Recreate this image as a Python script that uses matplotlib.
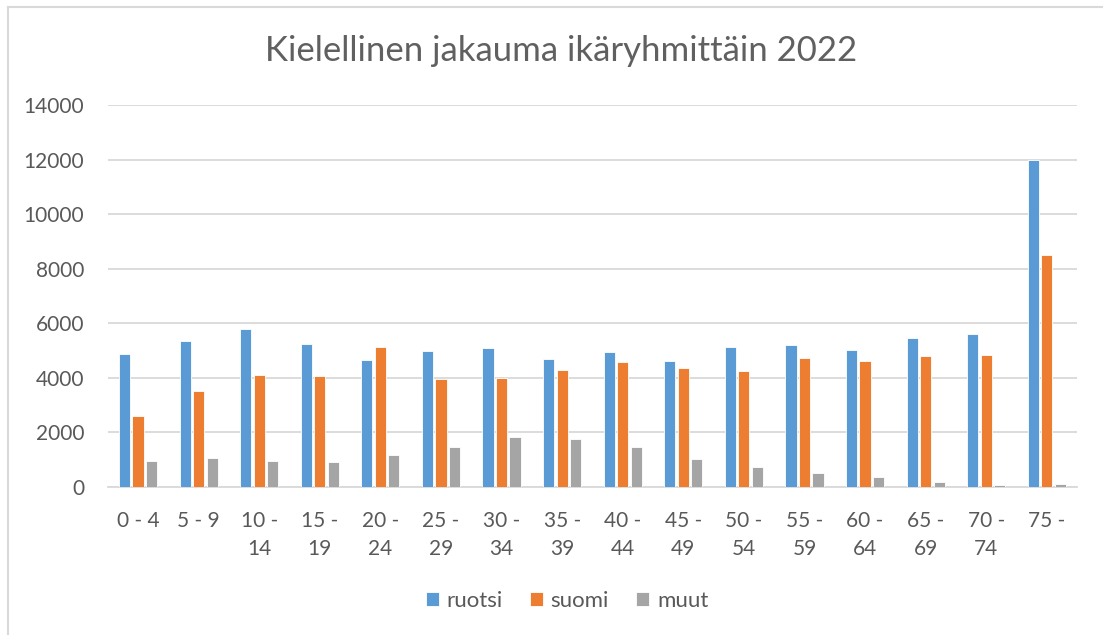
import numpy as np
import matplotlib
matplotlib.use("Agg")
import matplotlib.pyplot as plt

age_groups = ["0 - 4", "5 - 9", "10 -\n14", "15 -\n19", "20 -\n24", "25 -\n29",
              "30 -\n34", "35 -\n39", "40 -\n44", "45 -\n49", "50 -\n54", "55 -\n59",
              "60 -\n64", "65 -\n69", "70 -\n74", "75 -"]
ruotsi = [4870, 5360, 5775, 5235, 4650, 4990, 5100, 4700, 4940, 4625, 5115, 5195,
          5025, 5465, 5610, 11990]
suomi = [2605, 3500, 4100, 4050, 5140, 3950, 3990, 4295, 4565, 4355, 4260, 4730,
         4610, 4805, 4840, 8500]
muut = [940, 1050, 965, 915, 1185, 1455, 1835, 1760, 1465, 1040, 745, 525,
        355, 185, 85, 120]

series = [("ruotsi", ruotsi, "#5B9BD5"),
          ("suomi", suomi, "#ED7D31"),
          ("muut", muut, "#A5A5A5")]

text_col = "#595959"
grid_col = "#D9D9D9"
plt.rcParams["font.family"] = ["Lato", "DejaVu Sans"]

fig = plt.figure(figsize=(11.03, 6.35), dpi=100)
ax = fig.add_axes([0.0977, 0.2331, 0.8788, 0.6015])

x = np.arange(len(age_groups))
width = 0.185
step = 0.223
for i, (name, vals, color) in enumerate(series):
    ax.bar(x + (i - 1) * step, vals, width, color=color, edgecolor="white",
           linewidth=0.6, label=name, zorder=3)

ax.set_xlim(-0.5, len(age_groups) - 0.5)
ax.set_ylim(0, 14000)
ax.set_yticks(np.arange(0, 14001, 2000))
ax.yaxis.grid(True, color=grid_col, linewidth=1.3, zorder=0)
ax.set_axisbelow(True)
for side in ["left", "right", "top"]:
    ax.spines[side].set_visible(False)
ax.spines["bottom"].set_color(grid_col)
ax.spines["bottom"].set_linewidth(1.3)
ax.tick_params(axis="both", length=0, colors=text_col, labelsize=15)
ax.tick_params(axis="y", pad=17)
ax.tick_params(axis="x", pad=17)
ax.set_xticks(x)
ax.set_xticklabels(age_groups, linespacing=1.55)

fig.text(0.509, 0.919, "Kielellinen jakauma ikäryhmittäin 2022", ha="center",
         va="center", fontsize=25, color="#606060")

fig.legend(loc="center", bbox_to_anchor=(0.514, 0.0535), ncol=3, frameon=False,
           fontsize=16, labelcolor=text_col, handlelength=0.6, handleheight=0.6,
           handletextpad=0.35, columnspacing=1.2)

# light frame of the chart area (left and top edges visible)
fig.add_artist(plt.Line2D([0.0068, 0.0068], [0.0, 0.989], color=grid_col, lw=1.5))
fig.add_artist(plt.Line2D([0.0068, 1.0], [0.989, 0.989], color=grid_col, lw=1.5))

fig.savefig("out.png", dpi=100)
